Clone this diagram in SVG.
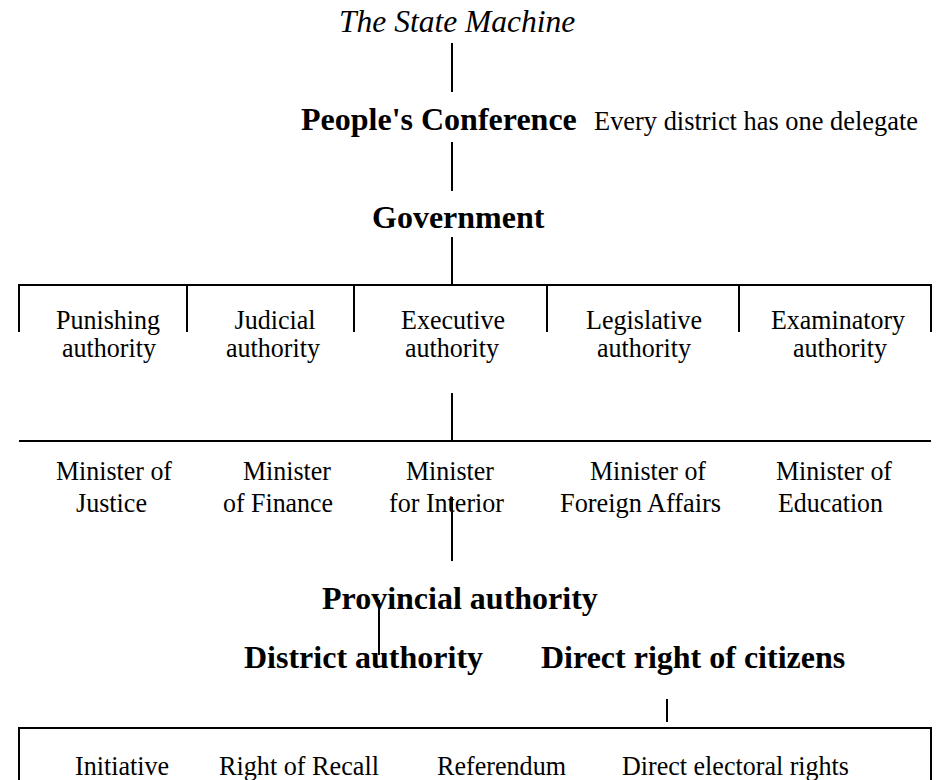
<svg xmlns="http://www.w3.org/2000/svg" width="940" height="780" viewBox="0 0 940 780">
<style>
text{font-family:"Liberation Serif","Times New Roman",serif;fill:#000}
.r{font-size:27px}
.b{font-size:32px;font-weight:bold}
.i{font-size:31.5px;font-style:italic}
.c{text-anchor:middle}
line{stroke:#000;stroke-width:2}
</style>
<rect width="940" height="780" fill="#fff"/>
<g id="connectors">
<line x1="452" y1="43" x2="452" y2="92"/>
<line x1="452" y1="142" x2="452" y2="191"/>
<line x1="452" y1="237" x2="452" y2="285"/>
<line x1="19" y1="285" x2="931" y2="285"/>
<line x1="19" y1="284" x2="19" y2="332"/>
<line x1="187" y1="284" x2="187" y2="332"/>
<line x1="354" y1="284" x2="354" y2="332"/>
<line x1="547" y1="284" x2="547" y2="332"/>
<line x1="739" y1="284" x2="739" y2="332"/>
<line x1="931" y1="284" x2="931" y2="332"/>
<line x1="452" y1="393" x2="452" y2="441"/>
<line x1="19" y1="441" x2="931" y2="441"/>
<line x1="452" y1="497" x2="452" y2="561"/>
<line x1="379" y1="600" x2="379" y2="655"/>
<line x1="667" y1="699" x2="667" y2="722"/>
<line x1="19" y1="728" x2="931" y2="728"/>
<line x1="19" y1="727" x2="19" y2="780"/>
<line x1="931" y1="727" x2="931" y2="780"/>
</g>
<g id="state-machine"><text class="i" x="339" y="32">The State Machine</text></g>
<g id="peoples-conference"><text class="b" x="301" y="130">People's Conference</text></g>
<g id="delegate-note"><text class="r" x="594" y="130" textLength="324" lengthAdjust="spacingAndGlyphs">Every district has one delegate</text></g>
<g id="government"><text class="b" x="372" y="228">Government</text></g>
<g id="punishing"><text class="r c" x="108" y="329" textLength="104" lengthAdjust="spacingAndGlyphs">Punishing</text><text class="r c" x="109" y="357" textLength="94" lengthAdjust="spacingAndGlyphs">authority</text></g>
<g id="judicial"><text class="r c" x="275" y="329" textLength="81" lengthAdjust="spacingAndGlyphs">Judicial</text><text class="r c" x="273" y="357" textLength="94" lengthAdjust="spacingAndGlyphs">authority</text></g>
<g id="executive"><text class="r c" x="453" y="329" textLength="104" lengthAdjust="spacingAndGlyphs">Executive</text><text class="r c" x="452" y="357" textLength="94" lengthAdjust="spacingAndGlyphs">authority</text></g>
<g id="legislative"><text class="r c" x="644" y="329" textLength="116" lengthAdjust="spacingAndGlyphs">Legislative</text><text class="r c" x="644" y="357" textLength="94" lengthAdjust="spacingAndGlyphs">authority</text></g>
<g id="examinatory"><text class="r c" x="838" y="329" textLength="134" lengthAdjust="spacingAndGlyphs">Examinatory</text><text class="r c" x="840" y="357" textLength="94" lengthAdjust="spacingAndGlyphs">authority</text></g>
<g id="min-justice"><text class="r" x="56" y="480" textLength="116" lengthAdjust="spacingAndGlyphs">Minister of</text><text class="r" x="76" y="512" textLength="71" lengthAdjust="spacingAndGlyphs">Justice</text></g>
<g id="min-finance"><text class="r" x="243" y="480" textLength="88" lengthAdjust="spacingAndGlyphs">Minister</text><text class="r" x="223" y="512" textLength="110" lengthAdjust="spacingAndGlyphs">of Finance</text></g>
<g id="min-interior"><text class="r" x="406" y="480" textLength="88" lengthAdjust="spacingAndGlyphs">Minister</text><text class="r" x="389" y="512" textLength="115" lengthAdjust="spacingAndGlyphs">for Interior</text></g>
<g id="min-foreign"><text class="r" x="590" y="480" textLength="116" lengthAdjust="spacingAndGlyphs">Minister of</text><text class="r" x="560" y="512" textLength="161" lengthAdjust="spacingAndGlyphs">Foreign Affairs</text></g>
<g id="min-education"><text class="r" x="776" y="480" textLength="116" lengthAdjust="spacingAndGlyphs">Minister of</text><text class="r" x="778" y="512" textLength="105" lengthAdjust="spacingAndGlyphs">Education</text></g>
<g id="provincial"><text class="b" x="322" y="609">Provincial authority</text></g>
<g id="district"><text class="b" x="244" y="668">District authority</text></g>
<g id="direct-right"><text class="b" x="541" y="668">Direct right of citizens</text></g>
<g id="initiative"><text class="r" x="75" y="775" textLength="94" lengthAdjust="spacingAndGlyphs">Initiative</text></g>
<g id="recall"><text class="r" x="219" y="775" textLength="160" lengthAdjust="spacingAndGlyphs">Right of Recall</text></g>
<g id="referendum"><text class="r" x="437" y="775" textLength="129" lengthAdjust="spacingAndGlyphs">Referendum</text></g>
<g id="electoral"><text class="r" x="622" y="775" textLength="227" lengthAdjust="spacingAndGlyphs">Direct electoral rights</text></g>
</svg>
